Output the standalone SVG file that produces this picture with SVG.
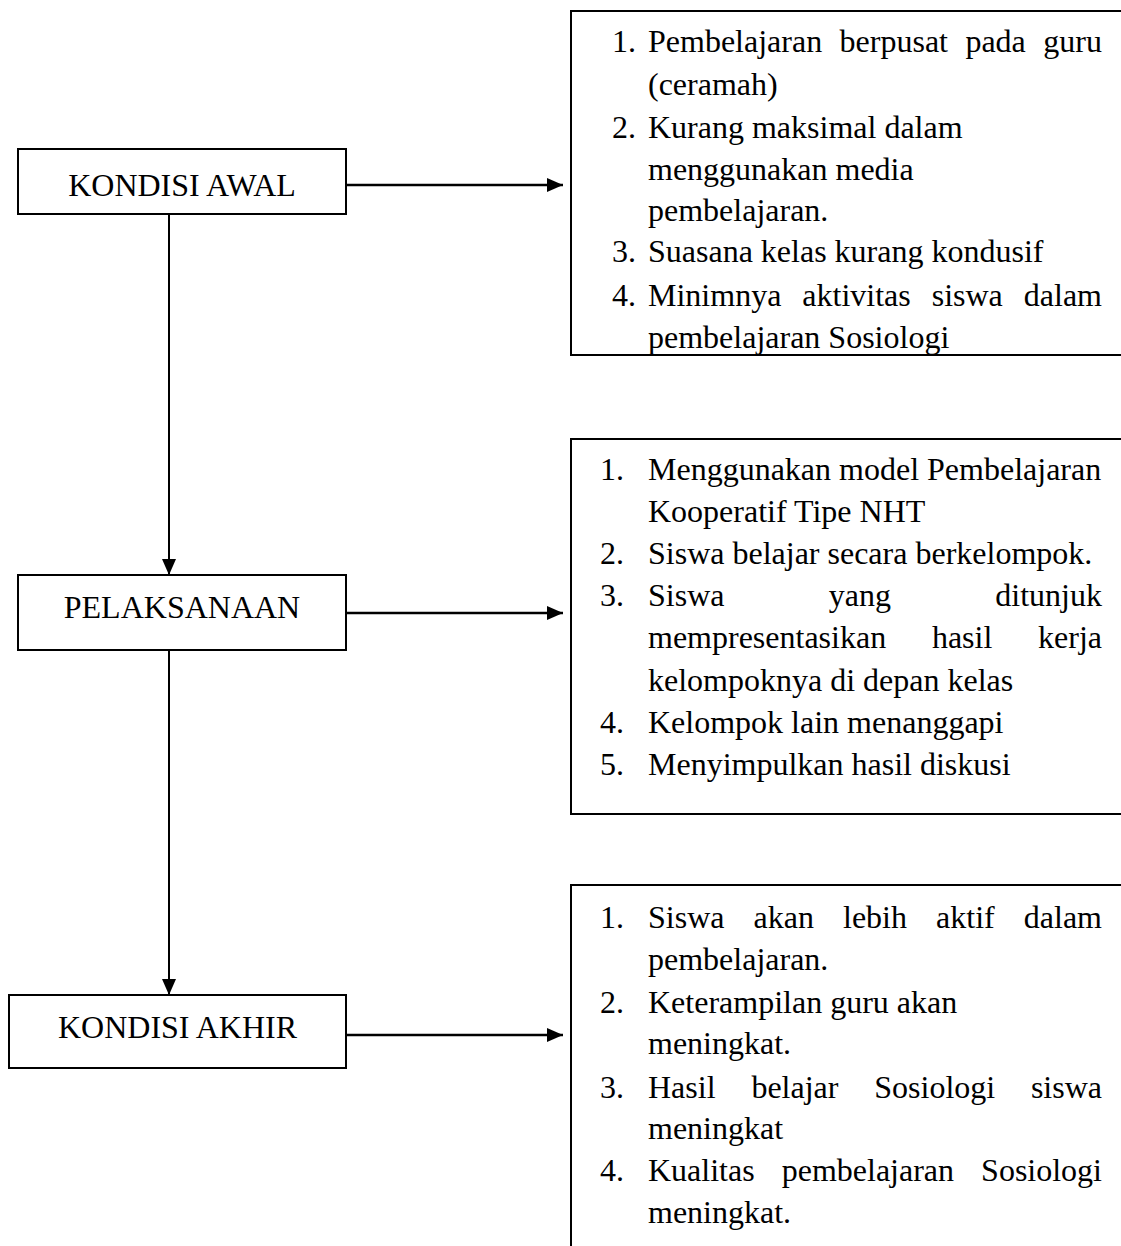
<svg xmlns="http://www.w3.org/2000/svg" width="1121" height="1246" viewBox="0 0 1121 1246">
<style>
text{font-family:"Liberation Serif","Times New Roman",serif;font-size:32px;fill:#000}
.c{text-anchor:middle}
.e{text-anchor:end}
.box{fill:#fff;stroke:#000;stroke-width:2}
.ln{fill:none;stroke:#000;stroke-width:2}
.ha{fill:none;stroke:#000;stroke-width:2.5}
</style>
<defs>
<marker id="ah" markerUnits="userSpaceOnUse" markerWidth="18" markerHeight="14" refX="16" refY="7" orient="auto">
<path d="M0,0 L16,7 L0,14 Z" fill="#000"/>
</marker>
</defs>
<rect width="1121" height="1246" fill="#fff"/>
<g id="connectors">
<line class="ln" x1="169" y1="214" x2="169" y2="575" marker-end="url(#ah)"/>
<line class="ln" x1="169" y1="650" x2="169" y2="995" marker-end="url(#ah)"/>
<line class="ha" x1="346" y1="185" x2="563" y2="185" marker-end="url(#ah)"/>
<line class="ha" x1="346" y1="613" x2="563" y2="613" marker-end="url(#ah)"/>
<line class="ha" x1="346" y1="1035" x2="563" y2="1035" marker-end="url(#ah)"/>
</g>
<g id="kondisi-awal">
<rect class="box" x="18" y="149" width="328" height="65"/>
<text class="c" x="182" y="196">KONDISI AWAL</text>
</g>
<g id="pelaksanaan">
<rect class="box" x="18" y="575" width="328" height="75"/>
<text class="c" x="182" y="618">PELAKSANAAN</text>
</g>
<g id="kondisi-akhir">
<rect class="box" x="9" y="995" width="337" height="73"/>
<text class="c" x="177.5" y="1038">KONDISI AKHIR</text>
</g>
<g id="list-awal">
<rect class="box" x="571" y="11" width="560" height="344"/>
<text x="612" y="52">1.</text>
<text x="648" y="52">Pembelajaran</text><text x="839.6" y="52">berpusat</text><text x="965.4" y="52">pada</text><text class="e" x="1102" y="52">guru</text>
<text x="648" y="95">(ceramah)</text>
<text x="612" y="138">2.</text><text x="648" y="138">Kurang maksimal dalam</text>
<text x="648" y="180">menggunakan media</text>
<text x="648" y="221">pembelajaran.</text>
<text x="612" y="262">3.</text><text x="648" y="262">Suasana kelas kurang kondusif</text>
<text x="612" y="306">4.</text>
<text x="648" y="306">Minimnya</text><text x="802.3" y="306">aktivitas</text><text x="931.7" y="306">siswa</text><text class="e" x="1102" y="306">dalam</text>
<text x="648" y="348">pembelajaran Sosiologi</text>
</g>
<g id="list-pelaksanaan">
<rect class="box" x="571" y="439" width="560" height="375"/>
<text x="600" y="480">1.</text><text x="648" y="480">Menggunakan model Pembelajaran</text>
<text x="648" y="522">Kooperatif Tipe NHT</text>
<text x="600" y="564">2.</text><text x="648" y="564">Siswa belajar secara berkelompok.</text>
<text x="600" y="606">3.</text>
<text x="648" y="606">Siswa</text><text x="828.8" y="606">yang</text><text class="e" x="1102" y="606">ditunjuk</text>
<text x="648" y="648">mempresentasikan</text><text x="931.9" y="648">hasil</text><text class="e" x="1102" y="648">kerja</text>
<text x="648" y="691">kelompoknya di depan kelas</text>
<text x="600" y="733">4.</text><text x="648" y="733">Kelompok lain menanggapi</text>
<text x="600" y="775">5.</text><text x="648" y="775">Menyimpulkan hasil diskusi</text>
</g>
<g id="list-akhir">
<rect class="box" x="571" y="885" width="560" height="400"/>
<text x="600" y="928">1.</text>
<text x="648" y="928">Siswa</text><text x="753.5" y="928">akan</text><text x="843" y="928">lebih</text><text x="936.1" y="928">aktif</text><text class="e" x="1102" y="928">dalam</text>
<text x="648" y="970">pembelajaran.</text>
<text x="600" y="1013">2.</text><text x="648" y="1013">Keterampilan guru akan</text>
<text x="648" y="1054">meningkat.</text>
<text x="600" y="1098">3.</text>
<text x="648" y="1098">Hasil</text><text x="751.4" y="1098">belajar</text><text x="874.3" y="1098">Sosiologi</text><text class="e" x="1102" y="1098">siswa</text>
<text x="648" y="1139">meningkat</text>
<text x="600" y="1181">4.</text>
<text x="648" y="1181">Kualitas</text><text x="781.7" y="1181">pembelajaran</text><text class="e" x="1102" y="1181">Sosiologi</text>
<text x="648" y="1223">meningkat.</text>
</g>
</svg>
